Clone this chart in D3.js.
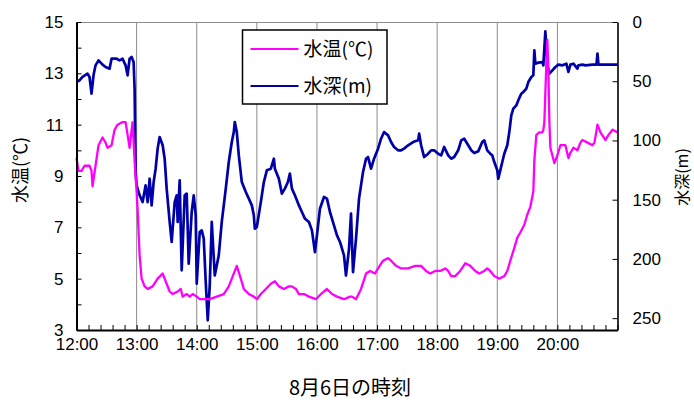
<!DOCTYPE html>
<html>
<head>
<meta charset="utf-8">
<script src="https://cdn.jsdelivr.net/npm/d3@7"></script>
<style>
  body { margin: 0; background: #fff; }
  svg { display: block; }
</style>
</head>
<body>
<div id="main"></div>
<script>
'use strict';

// minutes after 12:00 (8/6) and water depth (m)
var depthMin = [
  0, 3, 6, 11, 13, 15, 17, 19, 22, 26,
  29, 33, 35, 40, 43, 46, 49, 51, 53, 55,
  57, 58, 59, 60, 63, 66, 69, 71, 73, 75,
  77, 79, 81, 83, 86, 88, 90, 93, 95, 98,
  100, 101, 103, 105, 108, 110, 112, 115, 117, 119,
  120, 123, 125, 127, 129, 131, 133, 135, 138, 142,
  145, 149, 152, 155, 157, 158, 160, 162, 165, 169,
  172, 175, 177, 178, 180, 184, 187, 190, 194, 197,
  198, 202, 205, 208, 211, 213, 215, 218, 222, 225,
  228, 232, 235, 238, 240, 243, 247, 250, 253, 257,
  260, 263, 267, 269, 272, 274, 276, 279, 282, 286,
  289, 291, 294, 297, 301, 304, 307, 311, 314, 317,
  321, 324, 327, 331, 336, 341, 342, 344, 347, 351,
  354, 357, 361, 364, 367, 371, 374, 377, 381, 384,
  387, 391, 394, 397, 401, 405, 407, 410, 413, 415,
  417, 420, 421, 423, 425, 427, 430, 432, 434, 436,
  439, 441, 444, 446, 449, 451, 454, 456, 457, 458,
  461, 465, 466, 468, 470, 472, 475, 478, 481, 485,
  489, 491, 493, 496, 500, 501, 505, 508, 515, 519,
  520, 521, 528, 540
];
var depthVal = [
  50.7, 49.2, 46.4, 43.6, 46.4, 60.5, 45.0, 36.6, 32.4, 36.0,
  38.0, 39.4, 31.0, 31.0, 32.4, 31.0, 36.6, 45.0, 31.0, 29.5,
  33.8, 56.3, 126.6, 137.9, 146.3, 152.0, 137.9, 152.0, 132.3, 154.8,
  135.1, 123.8, 106.9, 97.1, 104.1, 115.4, 140.7, 168.8, 185.7, 152.0,
  146.3, 168.8, 133.7, 209.6, 146.3, 144.9, 204.0, 160.4, 146.3, 163.2,
  220.9, 177.3, 175.9, 182.9, 219.5, 251.8, 222.3, 168.8, 213.9, 197.0,
  168.8, 140.7, 118.2, 101.3, 92.9, 84.4, 92.9, 112.6, 135.1, 143.5,
  149.1, 154.8, 163.2, 174.5, 173.1, 152.0, 135.1, 125.2, 123.8, 115.4,
  123.8, 132.3, 144.9, 140.7, 135.1, 128.0, 140.7, 146.3, 154.8, 160.4,
  166.0, 168.8, 175.9, 194.2, 180.1, 157.6, 147.7, 149.1, 160.4, 171.7,
  180.1, 185.7, 197.0, 214.0, 191.4, 161.8, 211.1, 182.9, 149.1, 126.6,
  115.4, 114.0, 123.8, 115.4, 106.9, 98.5, 92.9, 95.7, 101.3, 105.5,
  108.3, 108.3, 106.9, 104.1, 101.3, 99.9, 94.3, 104.1, 114.0, 111.2,
  108.3, 108.3, 111.2, 112.6, 105.5, 112.6, 115.4, 114.0, 108.3, 99.9,
  98.5, 104.1, 108.3, 110.6, 109.2, 101.3, 99.9, 108.3, 111.2, 112.6,
  118.2, 125.2, 132.3, 125.2, 118.2, 111.2, 104.1, 92.9, 78.8, 73.2,
  70.4, 66.1, 60.5, 59.1, 56.3, 50.7, 46.4, 45.0, 23.9, 35.2,
  34.3, 33.8, 36.6, 7.9, 36.6, 43.6, 40.8, 38.0, 36.0, 36.6,
  35.2, 42.2, 36.0, 35.2, 39.4, 36.6, 36.0, 36.6, 36.0, 36.0,
  26.7, 36.0, 36.0, 36.0
];

// minutes after 12:00 and water temperature (°C)
var tempMin = [
  0, 2, 5, 8, 13, 15, 16, 19, 22, 26,
  29, 31, 35, 38, 41, 46, 49, 51, 53, 55,
  56, 58, 60, 61, 63, 65, 68, 71, 76, 81,
  86, 89, 93, 96, 101, 104, 106, 110, 113, 116,
  120, 123, 128, 133, 140, 147, 152, 156, 160, 164,
  167, 172, 177, 180, 184, 189, 194, 198, 202, 207,
  212, 215, 219, 222, 227, 232, 239, 244, 250, 255,
  260, 267, 273, 275, 279, 284, 289, 293, 298, 301,
  306, 311, 314, 319, 324, 331, 338, 344, 349, 353,
  358, 363, 368, 371, 374, 378, 383, 388, 393, 398,
  402, 407, 410, 413, 417, 422, 427, 430, 433, 437,
  440, 443, 447, 450, 453, 456, 457, 459, 462, 465,
  466, 467, 469, 470, 471, 472, 473, 475, 477, 480,
  483, 488, 491, 493, 496, 500, 503, 505, 510, 515,
  517, 520, 523, 528, 531, 535, 540
];
var tempVal = [
  9.7, 9.2, 9.2, 9.4, 9.4, 9.2, 8.6, 9.4, 10.2, 10.5,
  10.3, 10.1, 10.2, 10.8, 11.0, 11.1, 11.1, 10.6, 10.1, 10.8,
  11.1, 9.6, 8.4, 7.7, 5.9, 5.0, 4.7, 4.6, 4.7, 5.0,
  5.2, 4.9, 4.5, 4.4, 4.5, 4.6, 4.3, 4.4, 4.3, 4.4,
  4.3, 4.2, 4.2, 4.2, 4.3, 4.4, 4.7, 5.1, 5.5, 5.0,
  4.6, 4.4, 4.3, 4.2, 4.4, 4.6, 4.8, 4.9, 4.7, 4.6,
  4.7, 4.7, 4.6, 4.4, 4.4, 4.3, 4.2, 4.4, 4.6, 4.4,
  4.3, 4.2, 4.3, 4.3, 4.2, 4.6, 5.2, 5.3, 5.2, 5.4,
  5.7, 5.8, 5.7, 5.5, 5.4, 5.4, 5.5, 5.5, 5.3, 5.2,
  5.3, 5.3, 5.4, 5.3, 5.1, 5.1, 5.3, 5.6, 5.5, 5.3,
  5.2, 5.3, 5.4, 5.3, 5.1, 5.0, 5.1, 5.3, 5.7, 6.2,
  6.6, 6.8, 7.1, 7.5, 7.8, 8.4, 9.6, 10.6, 10.7, 10.7,
  10.8, 11.1, 13.4, 14.3, 13.1, 11.1, 10.1, 9.8, 9.5, 9.8,
  10.2, 10.2, 9.7, 9.9, 10.1, 10.0, 10.3, 10.4, 10.3, 10.2,
  10.3, 11.0, 10.7, 10.4, 10.6, 10.8, 10.7
];

var tempTicks = [3, 4, 5, 6, 7, 8, 9, 10, 11, 12, 13, 14, 15];
var depthTicks = [0, 50, 100, 150, 200, 250];
var seriesNames = ['水温(℃)', '水深(m)'];
var seriesColors = ['#ff00ff', '#0000a8'];
var xTitle = '8月6日の時刻';

var width = 694, height = 400;
var plot = { left: 76.5, right: 617.5, top: 22, bottom: 330 };
var numFont = '"Liberation Sans", Arial, sans-serif';
var jpFont = '"Noto Sans CJK JP", "Noto Sans", sans-serif';

var svg = d3.select('#main').append('svg')
  .attr('width', width)
  .attr('height', height);

var base = new Date(2000, 7, 6, 12, 0);
function toDate(m) { return new Date(base.getTime() + m * 60000); }

var x = d3.scaleTime().domain([base, toDate(540)]).range([plot.left, plot.right]);
var yT = d3.scaleLinear().domain([3, 15]).range([plot.bottom, plot.top]);
var yD = d3.scaleLinear().domain([0, 260]).range([plot.top, plot.bottom]);

// hour grid lines
var hours = d3.timeHour.range(toDate(60), toDate(540));
svg.append('g').selectAll('line')
  .data(hours).enter()
  .append('line')
  .attr('x1', function(d) { return x(d); })
  .attr('x2', function(d) { return x(d); })
  .attr('y1', plot.top)
  .attr('y2', plot.bottom)
  .attr('stroke', '#8c8c8c')
  .attr('stroke-width', 1);

// top border of plot area
svg.append('line')
  .attr('x1', plot.left).attr('x2', plot.right)
  .attr('y1', plot.top + 0.5).attr('y2', plot.top + 0.5)
  .attr('stroke', '#8c8c8c').attr('stroke-width', 1.2);

// series
var depthData = depthMin.map(function(m, i) { return { t: toDate(m), v: depthVal[i] }; });
var tempData = tempMin.map(function(m, i) { return { t: toDate(m), v: tempVal[i] }; });

var lineD = d3.line()
  .x(function(d) { return x(d.t); })
  .y(function(d) { return yD(d.v); });
var lineT = d3.line()
  .x(function(d) { return x(d.t); })
  .y(function(d) { return yT(d.v); });

svg.append('path').datum(depthData)
  .attr('d', lineD)
  .attr('fill', 'none')
  .attr('stroke', seriesColors[1])
  .attr('stroke-width', 2.7)
  .attr('stroke-linejoin', 'round');

svg.append('path').datum(tempData)
  .attr('d', lineT)
  .attr('fill', 'none')
  .attr('stroke', seriesColors[0])
  .attr('stroke-width', 2.3)
  .attr('stroke-linejoin', 'round');

// axes
function styleAxis(g, w) {
  g.select('.domain').attr('stroke', '#000').attr('stroke-width', w);
  g.selectAll('.tick line').attr('stroke', '#000').attr('stroke-width', 1);
  g.selectAll('.tick text')
    .attr('fill', '#000')
    .style('font-family', numFont)
    .style('font-size', '17px');
}

var leftAxis = d3.axisLeft(yT)
  .tickValues(tempTicks)
  .tickSize(-5)
  .tickSizeOuter(0)
  .tickPadding(13)
  .tickFormat(function(d) { return d % 2 === 1 ? d : ''; });
svg.append('g')
  .attr('transform', 'translate(' + plot.left + ',0)')
  .call(leftAxis)
  .call(styleAxis, 2);

var rightAxis = d3.axisRight(yD)
  .tickValues(depthTicks)
  .tickSize(-5)
  .tickSizeOuter(0)
  .tickPadding(15);
svg.append('g')
  .attr('transform', 'translate(' + plot.right + ',0)')
  .call(rightAxis)
  .call(styleAxis, 1.6);

var fmt = d3.timeFormat('%H:%M');
var bottomAxis = d3.axisBottom(x)
  .ticks(d3.timeMinute.every(12))
  .tickSize(-5)
  .tickSizeOuter(0)
  .tickPadding(8)
  .tickFormat(function(d) {
    return (d.getMinutes() === 0 && d < toDate(540)) ? fmt(d) : '';
  });
svg.append('g')
  .attr('transform', 'translate(0,' + plot.bottom + ')')
  .call(bottomAxis)
  .call(styleAxis, 2);

// axis titles
svg.append('text')
  .attr('transform', 'translate(21,170) rotate(-90)')
  .attr('text-anchor', 'middle')
  .attr('dy', '0.35em')
  .style('font-family', jpFont)
  .style('font-size', '18px')
  .text(seriesNames[0]);

svg.append('text')
  .attr('transform', 'translate(682,177) rotate(-90)')
  .attr('text-anchor', 'middle')
  .attr('dy', '0.35em')
  .style('font-family', jpFont)
  .style('font-size', '16px')
  .text(seriesNames[1]);

svg.append('text')
  .attr('x', 350)
  .attr('y', 395)
  .attr('text-anchor', 'middle')
  .style('font-family', jpFont)
  .style('font-size', '20px')
  .text(xTitle);

// legend
var legend = svg.append('g').attr('transform', 'translate(242.5,30)');
legend.append('rect')
  .attr('width', 144.5)
  .attr('height', 74)
  .attr('fill', '#fff')
  .attr('stroke', '#000')
  .attr('stroke-width', 1.5);

var rows = legend.selectAll('.row')
  .data(seriesNames).enter()
  .append('g')
  .attr('class', 'row')
  .attr('transform', function(d, i) { return 'translate(0,' + (19 + i * 37) + ')'; });
rows.append('line')
  .attr('x1', 8).attr('x2', 56)
  .attr('stroke', function(d, i) { return seriesColors[i]; })
  .attr('stroke-width', 2.2);
rows.append('text')
  .attr('x', 61)
  .attr('dy', '0.36em')
  .style('font-family', jpFont)
  .style('font-size', '19px')
  .text(function(d) { return d; });
</script>
</body>
</html>
